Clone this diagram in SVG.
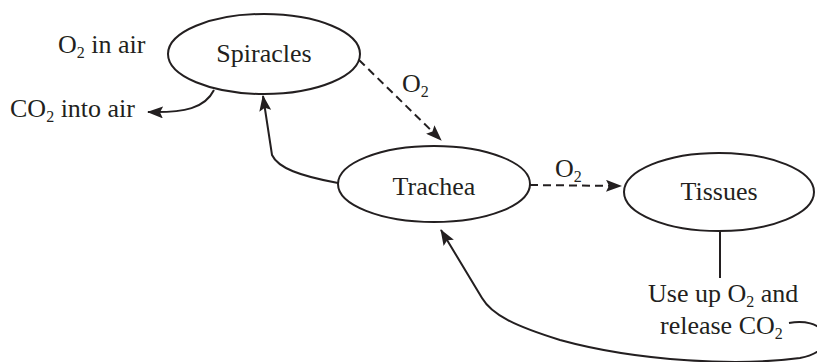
<svg xmlns="http://www.w3.org/2000/svg" width="817" height="362" viewBox="0 0 817 362">
<style>
.node{fill:#fff;stroke:#231f20;stroke-width:2}
.t{font-family:"Liberation Serif","Times New Roman",serif;font-size:26px;fill:#231f20}
.c{text-anchor:middle}
.sub{font-size:16px}
.e{fill:none;stroke:#231f20;stroke-width:2}
.d{stroke-dasharray:8 5}
</style>
<defs>
<marker id="ahb" viewBox="0 0 16 12" refX="15" refY="6" markerWidth="16" markerHeight="12" markerUnits="userSpaceOnUse" orient="auto">
<path d="M0,0 L16,6 L0,12 L3,6 z" fill="#231f20"/>
</marker>
</defs>
<g id="connectors">
<path class="e d" d="M359,60 L441,140" marker-end="url(#ahb)"/>
<path class="e d" d="M530,185 L621,186" marker-end="url(#ahb)"/>
<path class="e" d="M338,183 C300,176 278,168 272,155 L263,96" marker-end="url(#ahb)"/>
<path class="e" d="M214,90 C205,108 185,113 148,112" marker-end="url(#ahb)"/>
<path class="e" d="M720,232 L720,278"/>
<path class="e" d="M789,323 C805,320 818,324 824,332 C830,344 820,354 800,358 C740,366 640,362 560,340 C515,326 492,315 482,298 L441,230" marker-end="url(#ahb)"/>
<text class="t" x="402" y="92">O<tspan class="sub" dy="5">2</tspan></text>
<text class="t" x="555" y="177">O<tspan class="sub" dy="5">2</tspan></text>
</g>
<g id="spiracles">
<ellipse class="node" cx="264" cy="54" rx="96" ry="40"/>
<text class="t c" x="264" y="62">Spiracles</text>
</g>
<g id="trachea">
<ellipse class="node" cx="434" cy="184" rx="96" ry="38"/>
<text class="t c" x="434" y="195">Trachea</text>
</g>
<g id="tissues">
<ellipse class="node" cx="719" cy="192" rx="95" ry="39"/>
<text class="t c" x="719" y="200">Tissues</text>
</g>
<g id="o2-in-air">
<text class="t" x="58" y="53">O<tspan class="sub" dy="5">2</tspan><tspan dy="-5"> in air</tspan></text>
</g>
<g id="co2-into-air">
<text class="t" x="10" y="117">CO<tspan class="sub" dy="5">2</tspan><tspan dy="-5"> into air</tspan></text>
</g>
<g id="use-up">
<text class="t" x="648" y="302">Use up O<tspan class="sub" dy="5">2</tspan><tspan dy="-5"> and</tspan></text>
<text class="t" x="660" y="334">release CO<tspan class="sub" dy="5">2</tspan></text>
</g>
</svg>
